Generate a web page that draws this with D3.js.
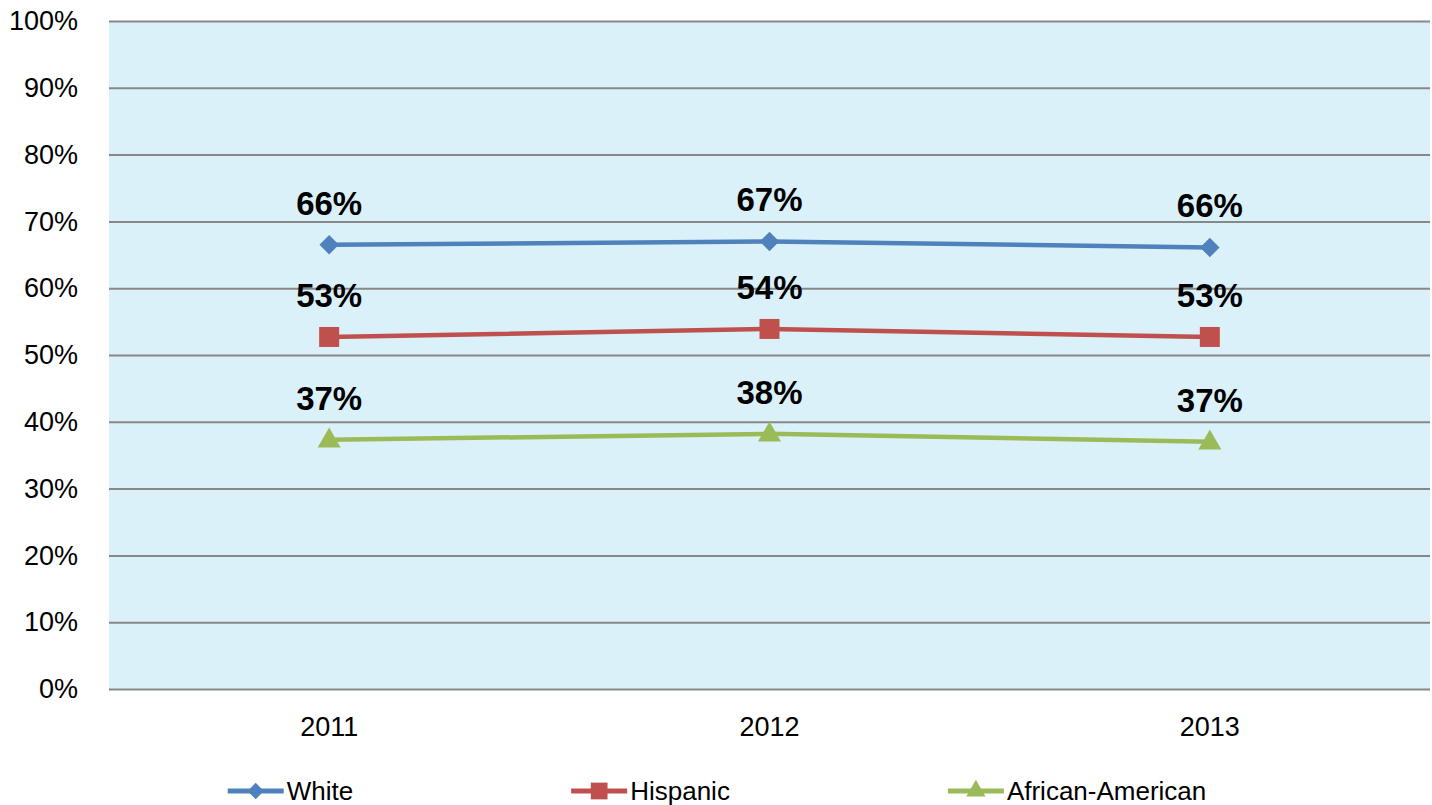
<!DOCTYPE html>
<html>
<head>
<meta charset="utf-8">
<script src="https://cdn.jsdelivr.net/npm/d3@7"></script>
<style>
  body { margin: 0; background: #fff; font-family: 'Liberation Sans', Arial, sans-serif; }
  .grid line { stroke: #888; stroke-width: 2; }
  .grid path { display: none; }
  .y-axis text, .x-axis text { font-size: 27px; fill: #000; }
  .label { font-size: 33px; font-weight: bold; fill: #000; text-anchor: middle; }
  .legend text { font-size: 26px; fill: #000; }
</style>
</head>
<body>
<script>
var years = ['2011', '2012', '2013']
var seriesNames = ['White', 'Hispanic', 'African-American']
var white = [0.665, 0.670, 0.661]
var hispanic = [0.527, 0.539, 0.527]
var africanAmerican = [0.373, 0.382, 0.370]
var labels = [['66%', '67%', '66%'], ['53%', '54%', '53%'], ['37%', '38%', '37%']]
var yTicks = [0, 0.1, 0.2, 0.3, 0.4, 0.5, 0.6, 0.7, 0.8, 0.9, 1]

var colors = ['#4F81BD', '#C0504D', '#9BBB59']
// diamond = square turned 45deg, like the office marker
var symbols = [d3.symbolSquare, d3.symbolSquare, d3.symbolTriangle]
var rotations = [45, 0, 0]
var symbolSizes = [190, 400, 230]

var series = [white, hispanic, africanAmerican].map(function(values, i){
  return {
    name: seriesNames[i],
    color: colors[i],
    symbol: symbols[i],
    rotate: rotations[i],
    size: symbolSizes[i],
    points: values.map(function(v, j){ return {year: years[j], value: v, label: labels[i][j]} })
  }
})

var totalWidth = 1432, totalHeight = 805
var margin = {left: 109, right: 2, top: 21, bottom: 116}
var width = totalWidth - margin.left - margin.right
var height = totalHeight - margin.top - margin.bottom

var svg = d3.select('body').append('svg')
  .attr('width', totalWidth)
  .attr('height', totalHeight)

var g = svg.append('g').attr('transform', 'translate(' + margin.left + ',' + margin.top + ')')

var x = d3.scaleBand().domain(years).range([0, width])
var y = d3.scaleLinear().domain([0, 1]).range([height, 0])

// plot background
g.append('rect')
  .attr('width', width)
  .attr('height', height)
  .attr('fill', '#DAF1FA')

// horizontal gridlines
g.append('g')
  .attr('class', 'grid')
  .call(d3.axisLeft(y).tickValues(yTicks).tickSize(-width).tickFormat(''))

var yAxis = g.append('g')
  .attr('class', 'y-axis')
  .call(d3.axisLeft(y).tickValues(yTicks).tickSize(0).tickPadding(31).tickFormat(d3.format('.0%')))
yAxis.select('.domain').remove()
yAxis.selectAll('text').style('font-family', 'Liberation Sans, Arial, sans-serif')

var xAxis = g.append('g')
  .attr('class', 'x-axis')
  .attr('transform', 'translate(0,' + height + ')')
  .call(d3.axisBottom(x).tickSize(0).tickPadding(28))
xAxis.select('.domain').remove()
xAxis.selectAll('text').style('font-family', 'Liberation Sans, Arial, sans-serif')

var line = d3.line()
  .x(function(d){ return x(d.year) + x.bandwidth() / 2 })
  .y(function(d){ return y(d.value) })

var sg = g.selectAll('g.series').data(series).join('g').attr('class', 'series')

sg.append('path')
  .attr('d', function(d){ return line(d.points) })
  .attr('fill', 'none')
  .attr('stroke', function(d){ return d.color })
  .attr('stroke-width', 4.5)

sg.each(function(s){
  var sel = d3.select(this)
  sel.selectAll('path.marker').data(s.points).join('path')
    .attr('class', 'marker')
    .attr('d', d3.symbol().type(s.symbol).size(s.size))
    .attr('transform', function(d){
      var ty = y(d.value) + (s.symbol === d3.symbolTriangle ? 1 : 0)
      return 'translate(' + (x(d.year) + x.bandwidth() / 2) + ',' + ty + ') rotate(' + s.rotate + ')'
    })
    .attr('fill', s.color)

  sel.selectAll('text.label').data(s.points).join('text')
    .attr('class', 'label')
    .attr('x', function(d){ return x(d.year) + x.bandwidth() / 2 })
    .attr('y', function(d){ return y(d.value) - 30 })
    .text(function(d){ return d.label })
})

// legend, centered under the chart with equal gaps
var legend = svg.append('g').attr('class', 'legend')
var items = legend.selectAll('g').data(series).join('g')

items.append('line')
  .attr('x1', 0).attr('x2', 56)
  .attr('y1', 0).attr('y2', 0)
  .attr('stroke', function(d){ return d.color })
  .attr('stroke-width', 5)

items.append('path')
  .attr('d', function(d){ return d3.symbol().type(d.symbol).size(d.size * 0.7)() })
  .attr('transform', function(d){ return 'translate(28,0) rotate(' + d.rotate + ')' })
  .attr('fill', function(d){ return d.color })

items.append('text')
  .attr('x', 59)
  .attr('dy', '0.35em')
  .text(function(d){ return d.name })

var gap = 218
var widths = []
items.each(function(){ widths.push(this.getBBox().width) })
var total = d3.sum(widths) + gap * (widths.length - 1)
var cx = 717 - total / 2
items.attr('transform', function(d, i){
  var t = 'translate(' + cx + ',791)'
  cx += widths[i] + gap
  return t
})
</script>
</body>
</html>
